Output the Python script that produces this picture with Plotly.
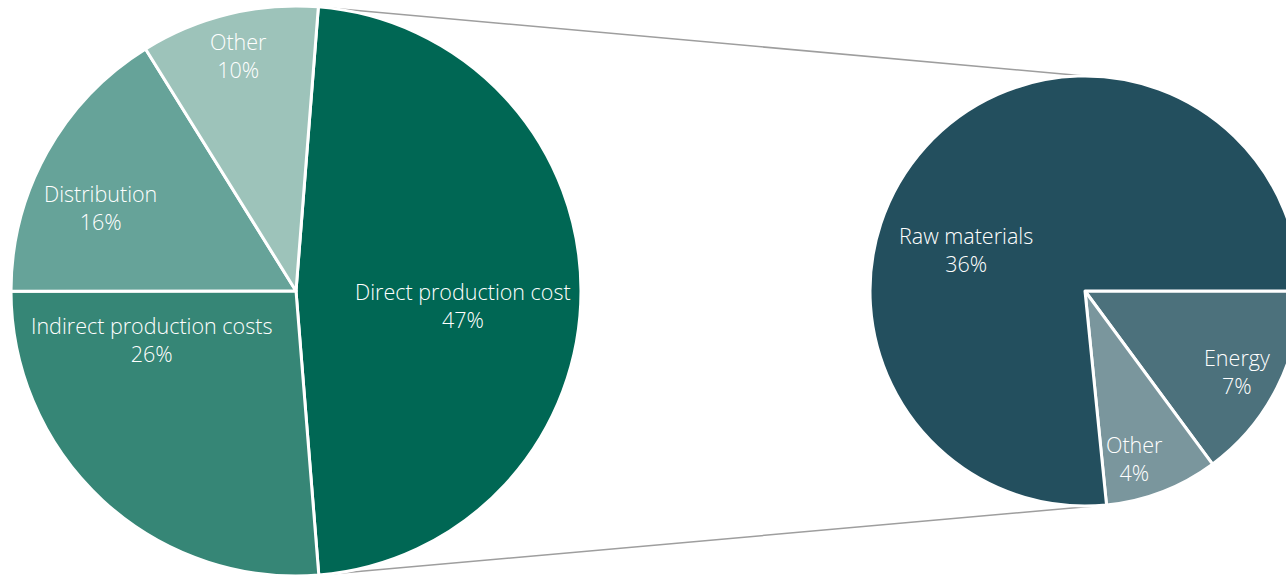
import math
import plotly.graph_objects as go

# Overall cost breakdown
cost_labels = ["Direct production cost", "Indirect production costs", "Distribution", "Other"]
cost_values = [47, 26, 16, 10]
cost_colors = ["#006754", "#368676", "#66A399", "#9DC3BA"]

# Breakdown of the direct production cost
direct_labels = ["Energy", "Other", "Raw materials"]
direct_values = [7, 4, 36]
direct_colors = ["#4C717C", "#7A969D", "#234F5E"]

W, H = 1300, 576
FONT = dict(family="Open Sans", size=21.5, color="white", weight=300)

# pie placement in pixels: centre x, centre y (from top), radius
L_CX, L_CY, L_R = 296, 291, 285
R_CX, R_CY, R_R = 1085, 291, 215
L_ROT, R_ROT = 4.5, 90


def domain(cx, cy, r):
    return dict(x=[(cx - r) / W, (cx + r) / W],
                y=[(H - cy - r) / H, (H - cy + r) / H])


fig = go.Figure()
fig.add_trace(go.Pie(
    labels=cost_labels, values=cost_values, sort=False, direction="clockwise",
    rotation=L_ROT, marker=dict(colors=cost_colors, line=dict(color="white", width=3)),
    textinfo="none", hoverinfo="label+percent", domain=domain(L_CX, L_CY, L_R),
    showlegend=False,
))
fig.add_trace(go.Pie(
    labels=direct_labels, values=direct_values, sort=False, direction="clockwise",
    rotation=R_ROT, marker=dict(colors=direct_colors, line=dict(color="white", width=3)),
    textinfo="none", hoverinfo="label+value", domain=domain(R_CX, R_CY, R_R),
    showlegend=False,
))


def point(cx, cy, r, ang):
    a = math.radians(ang)
    return cx + r * math.sin(a), cy - r * math.cos(a)


# connector lines: edges of the direct slice to the exploded pie
span = cost_values[0] / sum(cost_values) * 360
p_top = point(L_CX, L_CY, L_R, L_ROT)
p_bot = point(L_CX, L_CY, L_R, L_ROT + span)
q_top = point(R_CX, R_CY, R_R, 0)
q_bot = point(R_CX, R_CY, R_R, R_ROT + (direct_values[0] + direct_values[1]) / sum(direct_values) * 360)
for (x0, y0), (x1, y1) in [(p_top, q_top), (p_bot, q_bot)]:
    fig.add_shape(type="line", xref="paper", yref="paper",
                  x0=x0 / W, y0=1 - y0 / H, x1=x1 / W, y1=1 - y1 / H,
                  line=dict(color="#9E9E9E", width=1.5), layer="below")

# slice labels (pixel positions of label centres)
label_pos = {
    "Direct production cost": (463, 305),
    "Indirect production costs": (151, 339),
    "Distribution": (100, 207),
    "Other": (238, 55),
}
direct_pos = {"Raw materials": (966, 249), "Energy": (1237, 371), "Other": (1134, 458)}

for labels, values, pos in [(cost_labels, cost_values, label_pos),
                            (direct_labels, direct_values, direct_pos)]:
    for lab, val in zip(labels, values):
        x, y = pos[lab]
        fig.add_annotation(x=x / W, y=1 - y / H, xref="paper", yref="paper",
                           xanchor="center", yanchor="middle",
                           text=f"{lab}<br>{val}%", showarrow=False, font=FONT)

fig.update_layout(width=W, height=H, margin=dict(l=0, r=0, t=0, b=0),
                  paper_bgcolor="white", plot_bgcolor="white")

fig.write_html("out.html", post_script="document.body.style.margin='0';document.body.style.overflow='hidden';")
